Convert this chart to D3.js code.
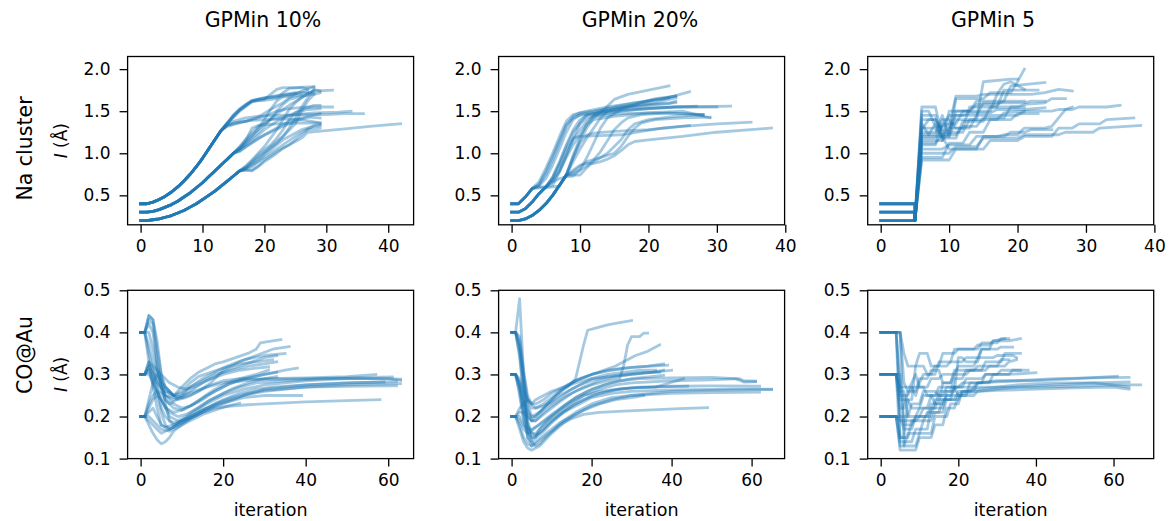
<!DOCTYPE html>
<html>
<head>
<meta charset="utf-8">
<script src="https://cdn.jsdelivr.net/npm/d3@7"></script>
<style>
  body { margin: 0; background: #fff; }
  svg { display: block; }
  text { font-family: "DejaVu Sans", sans-serif; fill: #000; }
</style>
</head>
<body>
<svg id="chart" width="1172" height="521"></svg>
<script>
// ---- labels -------------------------------------------------------------
const columnTitles = ["GPMin 10%", "GPMin 20%", "GPMin 5"];
const rowNames = ["Na cluster", "CO@Au"];
const naYTicks = [0.5, 1.0, 1.5, 2.0];
const coYTicks = [0.1, 0.2, 0.3, 0.4, 0.5];
const naXTicks = [0, 10, 20, 30, 40];
const coXTicks = [0, 20, 40, 60];
const naYRange = [0.15, 2.15];
const coYRange = [0.1, 0.5];

// ---- Na cluster, GPMin 10% ---------------------------------------------
// shared starting paths (iteration, I) for the three initial length scales
const na10Trunks = [
  [[0,0.40],[1,0.40],[2,0.42],[3,0.45],[4,0.49],[5,0.54],[6,0.60],[7,0.67],[8,0.75],[9,0.84],[10,0.94],[11,1.05],[12,1.16],[13,1.27]],
  [[0,0.30],[1,0.30],[2,0.31],[3,0.33],[4,0.36],[5,0.39],[6,0.43],[7,0.48],[8,0.53],[9,0.59],[10,0.65],[11,0.72],[12,0.79],[13,0.86],[14,0.93],[15,1.00]],
  [[0,0.20],[1,0.20],[2,0.21],[3,0.22],[4,0.24],[5,0.26],[6,0.29],[7,0.32],[8,0.36],[9,0.40],[10,0.45],[11,0.50],[12,0.55],[13,0.61],[14,0.67],[15,0.73],[16,0.79]]
];
const na10Runs = [
  [0, [[14,1.35],[15,1.45],[16,1.53],[17,1.58],[18,1.63],[20,1.66],[22,1.68],[24,1.70],[25,1.71]]],
  [0, [[14,1.36],[15,1.46],[17,1.57],[18,1.62],[19,1.64],[21,1.66],[23,1.67],[26,1.69]]],
  [0, [[14,1.34],[15,1.38],[17,1.42],[19,1.44],[22,1.45],[26,1.46],[30,1.46],[33,1.47],[36,1.47]]],
  [0, [[14,1.33],[16,1.37],[18,1.39],[20,1.40],[23,1.41],[26,1.40],[29,1.36]]],
  [0, [[14,1.35],[16,1.50],[18,1.61],[20,1.64],[21,1.70],[22,1.76],[23,1.78],[25,1.78],[27,1.79],[28,1.79]]],
  [0, [[14,1.32],[16,1.36],[18,1.40],[20,1.44],[22,1.50],[24,1.53],[27,1.55],[31,1.55]]],
  [0, [[14,1.36],[16,1.51],[18,1.62],[20,1.63],[22,1.65],[23,1.72],[24,1.77],[26,1.78],[27,1.76]]],
  [0, [[14,1.36],[15,1.44],[16,1.52],[17,1.58],[18,1.62],[19,1.64],[21,1.67],[23,1.70],[25,1.72],[27,1.73]]],
  [0, [[14,1.33],[15,1.36],[17,1.38],[19,1.43],[21,1.52],[23,1.60],[24,1.66],[25,1.70],[26,1.74],[28,1.79]]],
  [1, [[16,1.07],[18,1.22],[20,1.35],[22,1.47],[24,1.57],[26,1.66],[27,1.71],[28,1.74],[31,1.75]]],
  [1, [[16,1.05],[18,1.15],[20,1.28],[22,1.38],[24,1.45],[26,1.52],[28,1.57],[29,1.57]]],
  [1, [[16,1.06],[17,1.16],[18,1.30],[19,1.33],[22,1.35],[25,1.36],[29,1.36]]],
  [1, [[16,1.04],[18,1.20],[20,1.40],[21,1.52],[22,1.62],[23,1.68],[25,1.71],[28,1.72]]],
  [1, [[16,1.08],[18,1.25],[19,1.32],[21,1.40],[24,1.45],[28,1.48],[32,1.49],[34,1.50]]],
  [1, [[16,1.03],[18,1.12],[20,1.22],[22,1.30],[24,1.38],[26,1.42],[29,1.47]]],
  [1, [[16,1.06],[18,1.18],[20,1.32],[21,1.40],[22,1.50],[23,1.58],[24,1.64],[26,1.68],[28,1.70]]],
  [1, [[16,1.02],[17,1.08],[19,1.18],[21,1.25],[23,1.32],[25,1.38],[27,1.43],[29,1.42]]],
  [2, [[17,0.80],[18,0.79],[19,0.84],[20,0.90],[21,0.95],[22,1.00],[23,1.06],[24,1.10],[25,1.14],[26,1.18],[27,1.25],[30,1.27],[33,1.29],[37,1.32],[42,1.35]]],
  [2, [[17,0.82],[18,0.86],[20,0.95],[22,1.05],[24,1.15],[25,1.20],[26,1.25],[28,1.33],[29,1.34]]],
  [2, [[17,0.83],[18,0.88],[20,1.00],[22,1.12],[23,1.20],[25,1.35],[26,1.50],[27,1.62],[28,1.70],[29,1.72]]],
  [2, [[17,0.82],[19,0.95],[21,1.08],[23,1.20],[24,1.30],[25,1.42],[26,1.55],[27,1.66],[28,1.76],[29,1.74]]],
  [2, [[17,0.84],[19,0.98],[21,1.10],[22,1.18],[23,1.28],[24,1.40],[25,1.48],[27,1.52],[29,1.53]]],
  [2, [[17,0.80],[18,0.80],[19,0.85],[20,0.92],[22,1.02],[24,1.10],[26,1.22],[27,1.28],[29,1.30]]],
  [2, [[17,0.81],[18,0.84],[19,0.90],[20,0.98],[21,1.04],[22,1.10],[23,1.16],[24,1.20],[26,1.28],[28,1.32],[29,1.33]]],
  [2, [[17,0.85],[18,0.92],[19,1.00],[20,1.08],[21,1.18],[22,1.28],[23,1.40],[24,1.52],[25,1.60],[26,1.66],[28,1.75]]]
];

// ---- Na cluster, GPMin 20% ---------------------------------------------
const na20Trunks = [
  [[0,0.40],[1,0.40],[2,0.48],[3,0.58]],
  [[0,0.30],[1,0.30],[2,0.34],[3,0.42],[4,0.52],[5,0.60]],
  [[0,0.20],[1,0.20],[2,0.22],[3,0.26],[4,0.32],[5,0.40],[6,0.50],[7,0.62],[8,0.74]]
];
const na20Runs = [
  [0, [[4,0.62],[5,0.75],[6,0.92],[7,1.12],[8,1.32],[9,1.44],[10,1.48],[12,1.50],[14,1.53],[17,1.56],[20,1.58],[24,1.60]]],
  [0, [[4,0.60],[5,0.60],[6,0.62],[7,0.78],[8,0.98],[9,1.18],[10,1.36],[11,1.46],[13,1.49],[16,1.52],[20,1.54],[27,1.56]]],
  [0, [[4,0.59],[5,0.59],[6,0.60],[7,0.61],[8,0.75],[9,0.95],[10,1.15],[11,1.30],[12,1.42],[13,1.48],[14,1.56],[15,1.64],[17,1.70],[20,1.75],[23,1.80]]],
  [0, [[4,0.66],[5,0.82],[6,1.00],[7,1.20],[8,1.38],[9,1.46],[11,1.50],[14,1.55],[18,1.60],[22,1.64],[26,1.73]]],
  [0, [[4,0.63],[5,0.78],[6,0.96],[7,1.15],[8,1.34],[9,1.42],[10,1.45],[13,1.48],[18,1.52],[24,1.55],[32,1.56]]],
  [0, [[4,0.61],[5,0.70],[6,0.86],[7,1.05],[8,1.25],[9,1.40],[10,1.46],[12,1.49],[15,1.55],[18,1.60],[21,1.64],[23,1.66]]],
  [1, [[6,0.72],[7,0.90],[8,1.10],[9,1.28],[10,1.40],[11,1.45],[14,1.50],[18,1.58],[21,1.65],[24,1.68]]],
  [1, [[6,0.70],[7,0.86],[8,1.04],[9,1.18],[10,1.20],[13,1.21],[16,1.22],[19,1.26],[22,1.30],[26,1.33]]],
  [1, [[6,0.68],[7,0.80],[8,0.98],[9,1.16],[10,1.28],[11,1.38],[12,1.44],[16,1.47],[20,1.48],[25,1.47],[28,1.45]]],
  [1, [[6,0.66],[7,0.70],[8,0.72],[9,0.73],[10,0.80],[11,0.95],[12,1.12],[13,1.30],[14,1.42],[16,1.52],[19,1.60],[22,1.65],[24,1.68]]],
  [1, [[6,0.67],[7,0.78],[8,0.95],[9,1.10],[10,1.22],[11,1.34],[12,1.40],[15,1.44],[20,1.48],[25,1.50],[29,1.42]]],
  [1, [[6,0.71],[7,0.88],[8,1.08],[9,1.25],[10,1.35],[11,1.42],[13,1.46],[16,1.50],[20,1.53],[24,1.55],[30,1.55]]],
  [2, [[9,0.95],[10,1.12],[11,1.22],[12,1.24],[15,1.26],[20,1.28],[25,1.32],[30,1.35],[35,1.37]]],
  [2, [[9,0.80],[10,0.86],[11,0.88],[12,0.88],[13,0.90],[14,0.93],[15,0.97],[16,1.03],[17,1.10],[18,1.14],[20,1.16],[25,1.20],[30,1.25],[35,1.28],[38,1.30]]],
  [2, [[9,0.78],[10,0.84],[11,0.90],[13,0.95],[15,1.00],[16,1.08],[17,1.20],[18,1.30],[19,1.36],[21,1.40],[25,1.42],[29,1.43]]],
  [2, [[9,0.98],[10,1.18],[11,1.35],[12,1.45],[13,1.50],[16,1.54],[20,1.57],[23,1.59],[24,1.62]]],
  [2, [[9,0.76],[10,0.80],[11,0.85],[12,0.92],[13,1.02],[14,1.15],[15,1.28],[16,1.36],[17,1.42],[19,1.46],[23,1.48],[28,1.46]]],
  [2, [[9,0.90],[10,1.05],[11,1.18],[12,1.30],[13,1.42],[14,1.50],[17,1.55],[21,1.60],[24,1.66]]],
  [2, [[9,0.74],[10,0.74],[11,0.83],[12,0.90],[14,1.00],[15,1.08],[16,1.16],[17,1.28],[18,1.35],[20,1.40],[24,1.44],[28,1.46]]]
];

// ---- Na cluster, GPMin 5 -----------------------------------------------
const na5Trunks = [
  [[0,0.40],[5,0.40],[5,0.20]],
  [[0,0.30],[5,0.30],[5,0.20]],
  [[0,0.20],[5,0.20]]
];
const na5Runs = [
  [0, [[6,1.55],[7,1.55],[8,1.55],[9,1.20],[10,1.20],[11,1.65],[15,1.65],[16,1.72],[19,1.72],[20,1.85],[21,2.00]]],
  [1, [[6,1.25],[8,1.25],[9,1.45],[10,1.20],[11,1.40],[14,1.40],[15,1.85],[19,1.88],[20,1.88]]],
  [2, [[6,1.45],[8,1.45],[9,1.15],[10,1.50],[13,1.50],[14,1.62],[18,1.62],[19,1.80],[24,1.84]]],
  [0, [[6,1.20],[9,1.20],[10,1.30],[12,1.30],[13,1.55],[17,1.55],[18,1.75],[23,1.75]]],
  [1, [[6,1.10],[8,1.10],[9,1.35],[11,1.35],[12,1.50],[16,1.50],[17,1.70],[22,1.70],[24,1.72],[26,1.76],[28,1.74]]],
  [2, [[6,0.92],[10,0.92],[11,1.05],[15,1.05],[16,1.15],[20,1.15],[21,1.20],[25,1.20],[26,1.30],[28,1.30],[29,1.35],[32,1.35],[33,1.40],[37,1.42]]],
  [0, [[6,1.00],[10,1.00],[11,1.08],[14,1.08],[15,1.18],[20,1.18],[21,1.22],[26,1.22],[27,1.25],[31,1.25],[32,1.30],[38,1.33]]],
  [1, [[6,1.35],[7,1.22],[8,1.22],[9,1.40],[10,1.40],[11,1.30],[13,1.30],[14,1.45],[20,1.45],[21,1.50],[25,1.50],[26,1.52],[28,1.52],[29,1.55],[33,1.55],[35,1.57]]],
  [2, [[6,1.15],[9,1.15],[10,1.25],[12,1.25],[13,1.40],[17,1.40],[18,1.48],[21,1.50]]],
  [0, [[6,1.30],[8,1.30],[9,1.18],[11,1.18],[12,1.38],[15,1.38],[16,1.55],[20,1.55],[21,1.58],[24,1.60],[25,1.65],[27,1.65]]],
  [1, [[6,1.05],[9,1.05],[10,1.10],[13,1.10],[14,1.20],[17,1.20],[18,1.22],[20,1.22],[21,1.30],[24,1.30],[25,1.32],[26,1.42],[27,1.52],[28,1.55]]],
  [2, [[6,1.40],[8,1.40],[9,1.28],[10,1.28],[11,1.45],[14,1.45],[15,1.60],[21,1.60],[22,1.62],[24,1.62]]],
  [0, [[6,1.22],[7,1.22],[8,1.35],[9,1.20],[10,1.05],[14,1.05],[15,1.20],[18,1.20],[19,1.25],[21,1.25],[22,1.28],[25,1.28]]],
  [1, [[6,1.50],[7,1.50],[8,1.32],[10,1.32],[11,1.68],[14,1.68],[15,1.70],[17,1.70],[18,1.82],[19,1.85],[21,1.76]]],
  [2, [[6,1.18],[8,1.18],[9,1.32],[10,1.45],[12,1.45],[13,1.48],[16,1.48],[17,1.52],[21,1.52],[24,1.54]]],
  [0, [[6,0.95],[9,0.95],[10,1.12],[12,1.12],[13,1.25],[15,1.25],[16,1.40],[19,1.40],[20,1.47],[23,1.47]]],
  [1, [[6,1.28],[7,1.40],[8,1.40],[9,1.25],[10,1.25],[11,1.50],[13,1.50],[14,1.58],[17,1.58],[18,1.62],[21,1.62]]],
  [2, [[6,1.12],[8,1.12],[9,1.22],[11,1.22],[12,1.32],[14,1.32],[15,1.42],[18,1.42],[19,1.55],[21,1.55]]]
];

// ---- CO@Au, GPMin 10% --------------------------------------------------
const co10Trunks = [
  [[0,0.40],[1,0.40]],
  [[0,0.30],[1,0.30]],
  [[0,0.20],[1,0.20]]
];
const co10Runs = [
  [0, [[2,0.44],[3,0.43],[4,0.36],[5,0.30],[6,0.27],[7,0.26],[8,0.25],[9,0.26],[10,0.27],[12,0.29],[14,0.305],[16,0.315],[18,0.325],[20,0.33],[23,0.34],[26,0.35],[28,0.36],[29,0.375],[32,0.38],[34,0.383]]],
  [0, [[2,0.43],[3,0.42],[4,0.33],[5,0.27],[6,0.24],[7,0.23],[8,0.235],[10,0.25],[12,0.27],[15,0.29],[18,0.305],[21,0.32],[25,0.335],[30,0.345],[35,0.35]]],
  [0, [[2,0.35],[3,0.31],[4,0.28],[5,0.26],[6,0.25],[8,0.245],[10,0.25],[13,0.26],[16,0.27],[20,0.28],[25,0.285],[30,0.29],[40,0.292],[50,0.295],[57,0.30]]],
  [0, [[2,0.33],[3,0.27],[4,0.22],[5,0.18],[6,0.175],[8,0.18],[10,0.19],[13,0.205],[16,0.22],[20,0.235],[25,0.25],[30,0.26],[40,0.27],[50,0.275],[63,0.278]]],
  [0, [[2,0.42],[3,0.40],[4,0.32],[5,0.28],[6,0.26],[8,0.25],[10,0.255],[12,0.27],[15,0.285],[18,0.30],[22,0.31],[26,0.32],[30,0.325],[33,0.33]]],
  [0, [[2,0.37],[3,0.33],[4,0.30],[5,0.28],[7,0.26],[9,0.24],[11,0.245],[14,0.26],[17,0.275],[20,0.285],[24,0.29],[30,0.288],[40,0.29],[50,0.292],[61,0.294]]],
  [0, [[2,0.44],[3,0.43],[4,0.38],[5,0.30],[6,0.23],[7,0.19],[8,0.18],[10,0.19],[13,0.21],[16,0.23],[20,0.25],[25,0.265],[30,0.275],[40,0.285],[50,0.29],[60,0.29],[63,0.286]]],
  [0, [[2,0.40],[3,0.36],[4,0.31],[5,0.27],[6,0.25],[8,0.24],[10,0.245],[12,0.26],[15,0.28],[18,0.295],[21,0.31],[24,0.32],[27,0.33],[30,0.34],[33,0.345]]],
  [1, [[2,0.33],[3,0.31],[4,0.29],[5,0.27],[6,0.25],[8,0.23],[10,0.22],[12,0.225],[15,0.24],[18,0.26],[21,0.275],[25,0.29],[30,0.30],[35,0.31],[38,0.315]]],
  [1, [[2,0.32],[3,0.30],[4,0.27],[5,0.22],[6,0.20],[7,0.19],[8,0.185],[10,0.19],[13,0.20],[16,0.215],[20,0.23],[25,0.25],[30,0.265],[40,0.275],[50,0.28],[62,0.283]]],
  [1, [[2,0.33],[3,0.32],[5,0.30],[7,0.28],[9,0.27],[11,0.265],[13,0.27],[16,0.285],[20,0.30],[24,0.31],[28,0.315],[31,0.318]]],
  [1, [[2,0.31],[3,0.28],[4,0.25],[5,0.21],[6,0.18],[7,0.17],[8,0.175],[10,0.185],[12,0.195],[15,0.21],[18,0.225],[21,0.235],[25,0.245],[30,0.25],[39,0.25]]],
  [1, [[2,0.32],[3,0.30],[4,0.28],[6,0.26],[8,0.25],[10,0.26],[12,0.28],[14,0.295],[17,0.305],[20,0.315],[24,0.325],[28,0.33],[32,0.335]]],
  [1, [[2,0.30],[3,0.28],[5,0.24],[7,0.21],[9,0.20],[11,0.205],[14,0.22],[17,0.24],[20,0.255],[24,0.27],[28,0.28],[35,0.285],[45,0.29],[55,0.29],[63,0.289]]],
  [1, [[2,0.31],[3,0.29],[4,0.26],[5,0.24],[6,0.22],[8,0.21],[10,0.215],[13,0.23],[16,0.25],[19,0.265],[22,0.28],[26,0.29],[30,0.30],[33,0.305]]],
  [2, [[2,0.18],[3,0.16],[4,0.145],[5,0.135],[6,0.14],[7,0.15],[8,0.165],[10,0.18],[12,0.195],[15,0.21],[18,0.22],[22,0.225],[26,0.228],[30,0.23],[40,0.235],[50,0.238],[58,0.24]]],
  [2, [[2,0.24],[3,0.28],[4,0.30],[5,0.29],[6,0.27],[8,0.25],[10,0.245],[12,0.25],[14,0.26],[17,0.28],[20,0.31],[24,0.33],[28,0.345],[32,0.36],[36,0.366]]],
  [2, [[2,0.19],[3,0.18],[4,0.17],[5,0.16],[6,0.165],[8,0.175],[10,0.19],[12,0.20],[15,0.215],[18,0.23],[22,0.245],[26,0.255],[30,0.262],[40,0.27],[50,0.272],[60,0.273],[62,0.273]]],
  [2, [[2,0.22],[3,0.24],[4,0.25],[5,0.24],[6,0.22],[7,0.20],[9,0.19],[11,0.20],[13,0.215],[16,0.235],[19,0.25],[22,0.265],[26,0.28],[30,0.29],[33,0.295]]],
  [2, [[2,0.21],[3,0.22],[4,0.20],[5,0.18],[7,0.17],[9,0.18],[11,0.19],[14,0.21],[17,0.225],[20,0.24],[24,0.255],[28,0.265],[32,0.27],[40,0.275],[50,0.28],[59,0.282]]],
  [2, [[2,0.20],[3,0.19],[5,0.17],[7,0.165],[9,0.175],[12,0.19],[15,0.205],[18,0.215],[21,0.225],[24,0.232]]],
  [2, [[2,0.23],[3,0.25],[4,0.26],[5,0.255],[6,0.24],[8,0.22],[10,0.215],[12,0.225],[15,0.245],[18,0.265],[21,0.28],[24,0.29],[28,0.30],[31,0.31]]]
];

// ---- CO@Au, GPMin 20% --------------------------------------------------
const co20Trunks = [
  [[0,0.40],[1,0.40]],
  [[0,0.30],[1,0.30]],
  [[0,0.20],[1,0.20]]
];
const co20Runs = [
  [0, [[2,0.48],[3,0.30],[4,0.15],[5,0.14],[6,0.15],[7,0.17],[9,0.19],[12,0.21],[15,0.23],[18,0.25],[22,0.265],[26,0.275],[30,0.28],[40,0.285],[50,0.287],[57,0.29],[58,0.285],[61,0.284]]],
  [0, [[2,0.38],[3,0.30],[4,0.24],[5,0.22],[6,0.22],[8,0.23],[10,0.245],[12,0.26],[14,0.27],[16,0.29],[17,0.33],[18,0.37],[19,0.405],[21,0.41],[24,0.418],[27,0.423],[30,0.428]]],
  [0, [[2,0.36],[3,0.28],[4,0.22],[5,0.19],[6,0.19],[8,0.21],[10,0.225],[13,0.245],[16,0.26],[20,0.275],[24,0.285],[27,0.29],[28,0.32],[29,0.37],[30,0.39],[32,0.39],[33,0.398],[34,0.398]]],
  [0, [[2,0.35],[3,0.26],[4,0.19],[5,0.16],[6,0.155],[8,0.17],[10,0.19],[13,0.21],[16,0.225],[20,0.245],[25,0.255],[30,0.26],[40,0.263],[55,0.265],[65,0.265]]],
  [0, [[2,0.37],[3,0.29],[4,0.23],[5,0.20],[6,0.20],[8,0.22],[10,0.24],[13,0.265],[16,0.285],[20,0.30],[25,0.31],[30,0.317],[35,0.32],[39,0.322]]],
  [0, [[2,0.34],[3,0.25],[4,0.18],[5,0.14],[6,0.13],[7,0.135],[9,0.155],[12,0.18],[15,0.195],[18,0.205],[22,0.21],[28,0.213],[35,0.216],[42,0.219],[49,0.221]]],
  [0, [[2,0.39],[3,0.31],[4,0.25],[5,0.23],[6,0.23],[8,0.24],[10,0.255],[13,0.27],[16,0.285],[20,0.30],[24,0.31],[28,0.315],[34,0.32],[38,0.325]]],
  [1, [[2,0.27],[3,0.22],[4,0.18],[5,0.16],[6,0.16],[8,0.18],[10,0.20],[13,0.225],[16,0.245],[20,0.265],[25,0.28],[30,0.29],[35,0.295],[38,0.298]]],
  [1, [[2,0.28],[3,0.24],[4,0.21],[5,0.20],[7,0.21],[9,0.225],[12,0.245],[15,0.265],[18,0.28],[20,0.29],[24,0.30],[28,0.305],[32,0.31],[36,0.31]]],
  [1, [[2,0.26],[3,0.20],[4,0.15],[5,0.13],[6,0.135],[8,0.15],[10,0.165],[13,0.19],[16,0.21],[20,0.23],[25,0.245],[30,0.25],[40,0.255],[50,0.257],[62,0.258]]],
  [1, [[2,0.29],[3,0.26],[4,0.24],[5,0.23],[6,0.24],[8,0.25],[10,0.26],[13,0.27],[16,0.28],[20,0.29],[25,0.295],[30,0.30],[35,0.305],[38,0.31]]],
  [1, [[2,0.25],[3,0.19],[4,0.16],[5,0.15],[7,0.16],[9,0.18],[12,0.205],[15,0.225],[18,0.24],[22,0.255],[27,0.265],[32,0.27],[40,0.272],[50,0.273],[62,0.272]]],
  [1, [[2,0.28],[3,0.23],[4,0.20],[5,0.19],[6,0.20],[8,0.22],[11,0.25],[14,0.275],[17,0.29],[20,0.30],[23,0.31],[26,0.32],[28,0.33],[31,0.345],[34,0.355],[37,0.37]]],
  [1, [[2,0.27],[3,0.21],[4,0.17],[5,0.15],[6,0.15],[8,0.165],[10,0.185],[13,0.21],[16,0.23],[20,0.25],[25,0.262],[30,0.268],[36,0.27],[43,0.29]]],
  [2, [[2,0.18],[3,0.15],[4,0.135],[5,0.13],[6,0.14],[8,0.155],[10,0.17],[12,0.185],[15,0.20],[18,0.215],[22,0.23],[26,0.24],[30,0.245],[33,0.25]]],
  [2, [[2,0.21],[3,0.21],[4,0.20],[5,0.19],[6,0.19],[8,0.205],[10,0.22],[12,0.235],[15,0.255],[18,0.27],[22,0.285],[26,0.295],[30,0.30],[35,0.305],[40,0.31]]],
  [2, [[2,0.17],[3,0.14],[4,0.125],[5,0.12],[6,0.125],[7,0.13],[8,0.14],[10,0.16],[13,0.185],[16,0.205],[20,0.225],[25,0.24],[30,0.25],[40,0.26],[50,0.262],[60,0.264],[65,0.264]]],
  [2, [[2,0.19],[3,0.17],[4,0.16],[5,0.165],[6,0.175],[8,0.19],[10,0.205],[13,0.225],[16,0.245],[19,0.26],[23,0.275],[27,0.285],[32,0.29],[40,0.292],[50,0.293],[56,0.29],[58,0.282],[61,0.283]]],
  [2, [[2,0.22],[3,0.23],[4,0.24],[5,0.23],[6,0.22],[8,0.225],[10,0.235],[12,0.25],[14,0.26],[17,0.275],[20,0.285],[24,0.295],[28,0.30],[33,0.305],[37,0.305]]],
  [2, [[2,0.20],[3,0.18],[4,0.17],[5,0.17],[7,0.18],[9,0.195],[12,0.215],[15,0.235],[18,0.25],[22,0.26],[28,0.267],[35,0.27],[44,0.272]]]
];

// ---- CO@Au, GPMin 5 ----------------------------------------------------
const co5Trunks = [
  [[0,0.40]],
  [[0,0.30]],
  [[0,0.20]]
];
const co5Runs = [
  [0, [[4,0.40],[5,0.15],[6,0.15],[7,0.24],[8,0.24],[9,0.32],[11,0.32],[12,0.30],[14,0.30],[15,0.33],[18,0.33],[19,0.36],[25,0.36],[26,0.375],[30,0.375],[31,0.385],[33,0.385]]],
  [0, [[5,0.40],[6,0.13],[9,0.13],[10,0.16],[13,0.16],[14,0.20],[17,0.20],[18,0.23],[20,0.23],[21,0.26],[24,0.26],[25,0.28],[28,0.28],[29,0.30],[33,0.30],[34,0.31],[36,0.31]]],
  [0, [[5,0.40],[6,0.28],[7,0.26],[8,0.28],[9,0.30],[10,0.27],[12,0.27],[13,0.29],[15,0.29],[16,0.30],[19,0.30],[20,0.32],[24,0.32],[25,0.34],[29,0.34],[30,0.345],[34,0.345],[35,0.34]]],
  [0, [[4,0.40],[5,0.26],[6,0.26],[7,0.20],[9,0.20],[10,0.22],[12,0.22],[13,0.25],[16,0.25],[17,0.27],[20,0.27],[21,0.28],[25,0.28],[30,0.285],[40,0.285],[50,0.29],[61,0.296]]],
  [1, [[4,0.30],[5,0.14],[8,0.14],[9,0.17],[12,0.17],[13,0.22],[16,0.22],[17,0.26],[19,0.26],[20,0.34],[21,0.34],[22,0.33],[25,0.33],[26,0.36],[28,0.36],[29,0.38],[33,0.38],[36,0.385]]],
  [1, [[4,0.30],[5,0.22],[6,0.22],[7,0.26],[9,0.26],[10,0.29],[12,0.29],[13,0.31],[15,0.31],[16,0.28],[18,0.28],[19,0.30],[22,0.30],[23,0.31],[27,0.31],[28,0.32],[32,0.32],[33,0.33],[35,0.335]]],
  [1, [[4,0.30],[5,0.25],[7,0.25],[8,0.27],[11,0.27],[12,0.25],[14,0.25],[15,0.27],[19,0.27],[20,0.25],[24,0.25],[25,0.26],[30,0.265],[35,0.27],[45,0.275],[55,0.28],[64,0.282]]],
  [1, [[5,0.30],[6,0.18],[8,0.18],[9,0.20],[12,0.20],[13,0.23],[15,0.23],[16,0.28],[18,0.28],[19,0.31],[24,0.31],[25,0.32],[30,0.32],[31,0.335],[33,0.335]]],
  [2, [[4,0.20],[5,0.12],[9,0.12],[10,0.15],[13,0.15],[14,0.18],[16,0.18],[17,0.22],[19,0.22],[20,0.25],[22,0.25],[23,0.28],[26,0.28],[27,0.30],[30,0.30],[31,0.31],[38,0.31]]],
  [2, [[4,0.20],[5,0.15],[7,0.15],[8,0.19],[11,0.19],[12,0.21],[15,0.21],[16,0.24],[19,0.24],[20,0.26],[23,0.26],[24,0.27],[30,0.27],[35,0.275],[45,0.28],[55,0.28],[64,0.27]]],
  [2, [[5,0.20],[6,0.17],[8,0.17],[9,0.20],[10,0.20],[11,0.22],[14,0.22],[15,0.26],[18,0.26],[19,0.29],[21,0.29],[22,0.31],[26,0.31],[27,0.33],[31,0.33],[32,0.35],[36,0.35]]],
  [0, [[4,0.40],[5,0.24],[7,0.24],[8,0.22],[10,0.22],[11,0.25],[13,0.25],[14,0.23],[16,0.23],[17,0.25],[20,0.25],[21,0.26],[25,0.265],[30,0.27],[40,0.27],[50,0.272],[60,0.275],[67,0.275]]],
  [1, [[4,0.30],[5,0.27],[8,0.27],[9,0.25],[10,0.28],[11,0.30],[13,0.30],[14,0.32],[17,0.32],[18,0.33],[21,0.33],[22,0.34],[25,0.34],[26,0.36],[30,0.36],[31,0.365],[34,0.365]]],
  [2, [[4,0.20],[5,0.13],[6,0.13],[7,0.16],[10,0.16],[11,0.19],[13,0.19],[14,0.21],[16,0.21],[17,0.24],[20,0.24],[21,0.255],[25,0.26],[30,0.262],[40,0.265],[50,0.268],[60,0.27],[64,0.265]]],
  [0, [[5,0.40],[6,0.35],[7,0.32],[9,0.32],[10,0.35],[12,0.35],[13,0.32],[15,0.32],[16,0.35],[19,0.35],[20,0.36],[24,0.36],[25,0.37],[28,0.37],[29,0.38],[32,0.385]]],
  [2, [[4,0.20],[5,0.19],[9,0.19],[10,0.20],[13,0.20],[14,0.24],[18,0.24],[19,0.27],[21,0.27],[22,0.29],[26,0.29],[27,0.30],[33,0.30],[40,0.304]]],
  [1, [[4,0.30],[5,0.20],[7,0.20],[8,0.23],[10,0.23],[11,0.26],[14,0.26],[15,0.25],[18,0.25],[19,0.27],[24,0.27],[25,0.28],[35,0.285],[45,0.29],[55,0.292],[64,0.293]]]
];

// ---- layout ---------------------------------------------------------------
const colLeft = [127.6, 498.6, 867.7];
const rowTop = [56.5, 290.3];
const panelW = 286;
const panelH = 168.3;
const titleCenters = [263, 640, 993];
const rowLabelCenters = [148.5, 355];
const lineColor = "#1f77b4";

const panels = [
  { row: 0, col: 0, trunks: na10Trunks, runs: na10Runs },
  { row: 0, col: 1, trunks: na20Trunks, runs: na20Runs },
  { row: 0, col: 2, trunks: na5Trunks,  runs: na5Runs  },
  { row: 1, col: 0, trunks: co10Trunks, runs: co10Runs },
  { row: 1, col: 1, trunks: co20Trunks, runs: co20Runs },
  { row: 1, col: 2, trunks: co5Trunks,  runs: co5Runs  }
];

const svg = d3.select("#chart");

panels.forEach(p => {
  const series = p.runs.map(([t, tail]) => p.trunks[t].concat(tail));
  const xMax = d3.max(series, s => d3.max(s, d => d[0]));
  const pad = 0.05 * xMax;
  const x = d3.scaleLinear().domain([-pad, xMax + pad]).range([0, panelW]);
  const y = d3.scaleLinear().domain(p.row === 0 ? naYRange : coYRange).range([panelH, 0]);

  const g = svg.append("g")
    .attr("transform", `translate(${colLeft[p.col]},${rowTop[p.row]})`);

  g.append("defs").append("clipPath").attr("id", `clip-${p.row}-${p.col}`)
    .append("rect").attr("width", panelW).attr("height", panelH);

  const line = d3.line().x(d => x(d[0])).y(d => y(d[1]));

  g.append("g").attr("clip-path", `url(#clip-${p.row}-${p.col})`)
    .selectAll("path").data(series).join("path")
    .attr("d", line)
    .attr("fill", "none")
    .attr("stroke", lineColor)
    .attr("stroke-opacity", 0.4)
    .attr("stroke-width", 2.8)
    .attr("stroke-linejoin", "round")
    .attr("stroke-linecap", "square");

  // axes
  const xAxis = d3.axisBottom(x)
    .tickValues(p.row === 0 ? naXTicks : coXTicks)
    .tickFormat(d3.format("d"))
    .tickSizeOuter(0).tickSizeInner(8).tickPadding(7);
  const yAxis = d3.axisLeft(y)
    .tickValues(p.row === 0 ? naYTicks : coYTicks)
    .tickFormat(d3.format(".1f"))
    .tickSizeOuter(0).tickSizeInner(8).tickPadding(9);

  const gx = g.append("g").attr("transform", `translate(0,${panelH})`).call(xAxis);
  const gy = g.append("g").call(yAxis);
  [gx, gy].forEach(a => {
    a.select(".domain").remove();
    a.selectAll(".tick line").attr("stroke", "#000").attr("stroke-width", 1.3);
    a.selectAll(".tick text").attr("font-size", 17).attr("font-family", "DejaVu Sans").attr("fill", "#000");
  });

  // frame
  g.append("rect").attr("width", panelW).attr("height", panelH)
    .attr("fill", "none").attr("stroke", "#000").attr("stroke-width", 1.3);

  if (p.row === 0) {
    svg.append("text")
      .attr("x", titleCenters[p.col])
      .attr("y", 27)
      .attr("text-anchor", "middle")
      .attr("font-size", 20.5)
      .text(columnTitles[p.col]);
  } else {
    svg.append("text")
      .attr("x", colLeft[p.col] + panelW / 2)
      .attr("y", 516)
      .attr("text-anchor", "middle")
      .attr("font-size", 17.5)
      .text("iteration");
  }

  if (p.col === 0) {
    const cy = rowTop[p.row] + panelH / 2;
    svg.append("text")
      .attr("transform", `translate(31.5,${rowLabelCenters[p.row]}) rotate(-90)`)
      .attr("text-anchor", "middle")
      .attr("font-size", 20.5)
      .text(rowNames[p.row]);
    const lab = svg.append("text")
      .attr("transform", `translate(67,${cy}) rotate(-90)`)
      .attr("text-anchor", "middle")
      .attr("font-size", 17);
    lab.append("tspan").attr("font-style", "italic").text("I");
    lab.append("tspan").text(" (Å)");
  }
});
</script>
</body>
</html>
